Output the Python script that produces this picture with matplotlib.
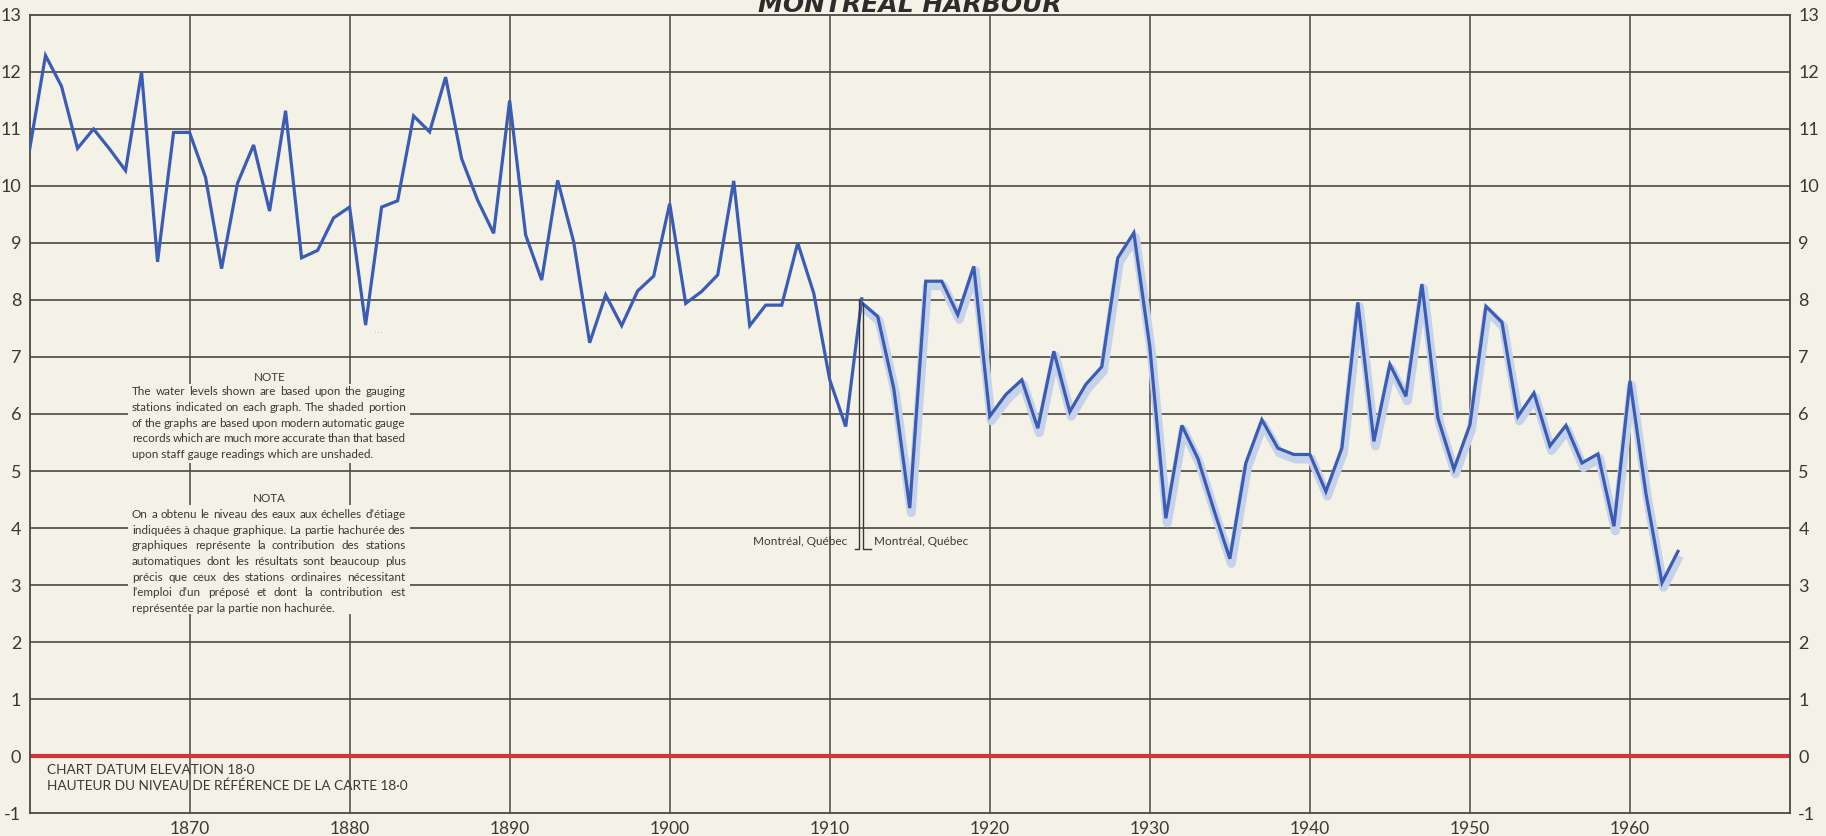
import matplotlib
matplotlib.use("Agg")
import matplotlib.pyplot as plt
import matplotlib.transforms as mtransforms
from matplotlib.patches import Rectangle

# annual mean levels, feet above chart datum
years_staff = list(range(1860, 1913))
level_staff = [10.63, 12.29, 11.75, 10.66, 11.00, 10.65, 10.27, 12.00, 8.67, 10.94,
               10.94, 10.15, 8.55, 10.05, 10.72, 9.56, 11.32, 8.74, 8.87, 9.44,
               9.63, 7.56, 9.63, 9.74, 11.23, 10.95, 11.91, 10.48, 9.75, 9.17,
               11.50, 9.14, 8.35, 10.10, 9.02, 7.25, 8.09, 7.55, 8.16, 8.42,
               9.69, 7.94, 8.15, 8.44, 10.09, 7.55, 7.91, 7.91, 9.00, 8.12,
               6.60, 5.78, 8.02]

years_auto = list(range(1912, 1964))
level_auto = [7.95, 7.71, 6.45, 4.35, 8.33, 8.33, 7.74, 8.59,
              5.96, 6.34, 6.60, 5.75, 7.10, 6.04, 6.52, 6.83, 8.74, 9.18,
              7.18, 4.17, 5.80, 5.22, 4.32, 3.46, 5.14, 5.90, 5.40, 5.29,
              5.29, 4.64, 5.40, 7.96, 5.52, 6.87, 6.31, 8.28, 5.93, 5.03,
              5.81, 7.89, 7.61, 5.96, 6.37, 5.44, 5.80, 5.14, 5.30, 4.03,
              6.58, 4.60, 3.04, 3.59]

x_ticks = list(range(1870, 1961, 10))
y_ticks = list(range(-1, 14))
station_change = 1912
station_name = "Montréal, Québec"

note_en = ["The water levels shown are based upon the gauging",
           "stations indicated on each graph. The shaded portion",
           "of the graphs are based upon modern automatic gauge",
           "records which are much more accurate than that based",
           "upon staff gauge readings which are unshaded."]
note_fr = ["On a obtenu le niveau des eaux aux échelles d’étiage",
           "indiquées à chaque graphique. La partie hachurée des",
           "graphiques représente la contribution des stations",
           "automatiques dont les résultats sont beaucoup plus",
           "précis que ceux des stations ordinaires nécessitant",
           "l’emploi d’un préposé et dont la contribution est",
           "représentée par la partie non hachurée."]

paper = "#f4f2e6"
gridc = "#4b4742"
textc = "#3a3836"
blue = "#3b5cb4"
shade = "#c6d2e9"

plt.rcParams['axes.unicode_minus'] = False
sans = ['Lato', 'DejaVu Sans']
note_size = 8.4

fig = plt.figure(figsize=(18.26, 8.36), dpi=100, facecolor=paper)
ax = fig.add_axes([0.01616, 0.02751, 0.96413, 0.95455], facecolor=paper)
ax.set_xlim(1860, 1970)
ax.set_ylim(-1, 13)

# grid
for y in y_ticks[1:-1]:
    ax.axhline(y, color=gridc, lw=1.2, zorder=1)
for x in x_ticks:
    ax.axvline(x, color=gridc, lw=1.1, zorder=1)
for s in ax.spines.values():
    s.set_color(gridc)
    s.set_linewidth(1.3)

ax.set_xticks(x_ticks)
ax.set_yticks(y_ticks)
ax.set_xticklabels([str(x) for x in x_ticks], family=sans, fontsize=12.5, color=textc)
ax.set_yticklabels([str(y) for y in y_ticks], family=sans, fontsize=13, color=textc)
ax.tick_params(axis='y', length=0, pad=6, labelright=True)
ax.tick_params(axis='x', length=0, pad=6)

# chart datum
ax.axhline(0, color="#d3343a", lw=3.0, zorder=2)
ax.text(1861.1, -0.24, "CHART DATUM ELEVATION 18·0", family=sans, fontsize=9.8,
        color=textc, va='center', zorder=5)
ax.text(1861.1, -0.52, "HAUTEUR DU NIVEAU DE RÉFÉRENCE DE LA CARTE 18·0", family=sans,
        fontsize=9.8, color=textc, va='center', zorder=5)

# staff gauge record
ax.plot(years_staff, level_staff, color=blue, lw=2.3, zorder=4, solid_joinstyle='miter')
ax.text(1881.8, 7.42, "···", fontsize=7, color="#b8b4aa", ha='center', va='center')

# automatic gauge record with its shaded band
shift = mtransforms.offset_copy(ax.transData, fig=fig, x=1.5, y=-4.5, units='dots')
ax.plot(years_auto, level_auto, color=shade, lw=6.5, zorder=3, transform=shift,
        solid_joinstyle='round', solid_capstyle='butt')
ax.plot(years_auto, level_auto, color=blue, lw=2.3, zorder=4, solid_joinstyle='miter')

# station change marker
bar_low = 3.63
ax.plot([station_change - 0.4, station_change - 0.15, station_change - 0.15],
        [bar_low, bar_low, level_staff[-1]], color=textc, lw=1.0, zorder=5)
ax.plot([station_change + 0.6, station_change + 0.1, station_change + 0.1],
        [bar_low, bar_low, level_auto[0]], color=textc, lw=1.0, zorder=5)
ax.text(station_change - 0.88, 3.77, station_name, family=sans, fontsize=8.5,
        color=textc, ha='right', va='center', zorder=5)
ax.text(station_change + 0.75, 3.77, station_name, family=sans, fontsize=8.5,
        color=textc, ha='left', va='center', zorder=5)

# note blocks sit on plain paper, cutting the grid
ax.add_patch(Rectangle((1866.15, 5.14), 17.6, 1.38, facecolor=paper, edgecolor='none', zorder=2))
ax.add_patch(Rectangle((1866.15, 2.49), 17.6, 1.92, facecolor=paper, edgecolor='none', zorder=2))

fig.canvas.draw()
rend = fig.canvas.get_renderer()
inv = ax.transData.inverted()


def justified(lines, x0, x1, ytop, dy):
    px0 = ax.transData.transform((x0, 0))[0]
    px1 = ax.transData.transform((x1, 0))[0]
    for i, line in enumerate(lines):
        y = ytop - i * dy
        if i == len(lines) - 1:
            ax.text(x0, y, line, family=sans, fontsize=note_size, color=textc,
                    va='center', zorder=5)
            continue
        words = line.split()
        ts = [ax.text(x0, y, w, family=sans, fontsize=note_size, color=textc,
                      va='center', zorder=5) for w in words]
        widths = [t.get_window_extent(rend).width for t in ts]
        gap = (px1 - px0 - sum(widths)) / (len(words) - 1)
        pos = px0
        for t, w in zip(ts, widths):
            t.set_x(inv.transform((pos, 0))[0])
            pos += w + gap


ax.text(1875.0, 6.64, "NOTE", family=sans, fontsize=note_size, color=textc,
        ha='center', va='center', zorder=5)
justified(note_en, 1866.4, 1883.5, 6.39, 0.276)
ax.text(1875.0, 4.52, "NOTA", family=sans, fontsize=note_size, color=textc,
        ha='center', va='center', zorder=5)
justified(note_fr, 1866.4, 1883.5, 4.24, 0.276)

fig.text(0.4985, 1 - 12 / 836, "MONTREAL HARBOUR", fontsize=18, fontweight='bold',
         fontstyle='italic', color="#2e2c2a", ha='center', va='baseline')

fig.savefig("out.png", dpi=100, facecolor=paper)
